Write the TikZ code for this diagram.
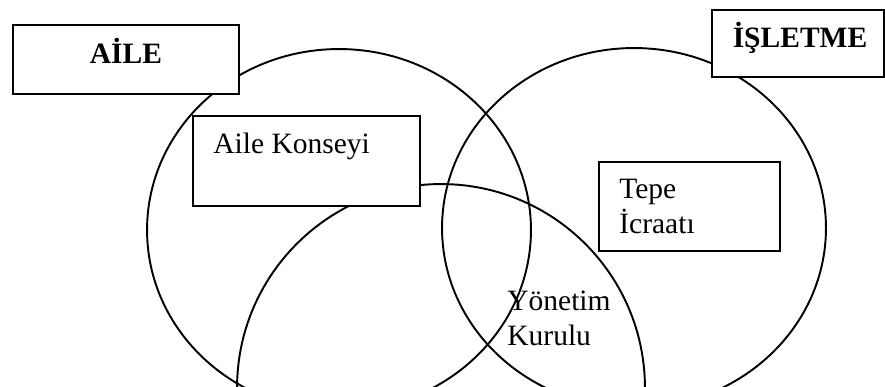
\documentclass[tikz,border=0pt]{standalone}
\usepackage{fontspec}
\setmainfont{Liberation Serif}
\usepackage{tikz}
\usetikzlibrary{positioning}

\begin{document}
\begin{tikzpicture}[
			x=0.02cm, y=-0.02cm,
			cember/.style={line width=1.1pt, draw=black},
			kutu/.style={rectangle, fill=white, draw=black, line width=1pt, inner sep=0pt},
			baslik/.style={font=\fontsize{16.8}{19.6}\selectfont\bfseries, inner sep=0pt},
			metin/.style={font=\fontsize{16.8}{19.6}\selectfont, align=left, inner sep=0pt}
		]
		\useasboundingbox (0,0) rectangle (885,386);
		\clip (0,0) rectangle (885,386);

		% the three overlapping circles
		\draw[cember] (339,230) ellipse [x radius=3.84cm, y radius=3.62cm];
		\draw[cember] (634,228) ellipse [x radius=3.84cm, y radius=3.6cm];
		\draw[cember] (441,388) circle [radius=4.08cm];

		% title boxes
		\node (aile) [kutu, minimum width=4.52cm, minimum height=1.38cm] at (126,59.5) {};
		\node (ailebaslik) [baslik, anchor=base] at (126,63) {AİLE};

		\node (isletme) [kutu, minimum width=3.44cm, minimum height=1.34cm] at (798,43.5) {};
		\node (isletmebaslik) [baslik, anchor=base] at (800,47) {İŞLETME};

		% inner boxes (base = last line for two-line text)
		\node (konsey) [kutu, minimum width=4.54cm, minimum height=1.8cm] at (306.5,161) {};
		\node (konseymetin) [metin, anchor=base west] at (213,153) {Aile Konseyi};

		\node (tepe) [kutu, minimum width=3.62cm, minimum height=1.78cm] at (689.5,206.5) {};
		\node (tepemetin) [metin, anchor=base west] at (619,233) {Tepe\\İcraatı};

		\node (kurul) [metin, anchor=base west] at (507,345) {Yönetim\\Kurulu};

	\end{tikzpicture}
\end{document}
